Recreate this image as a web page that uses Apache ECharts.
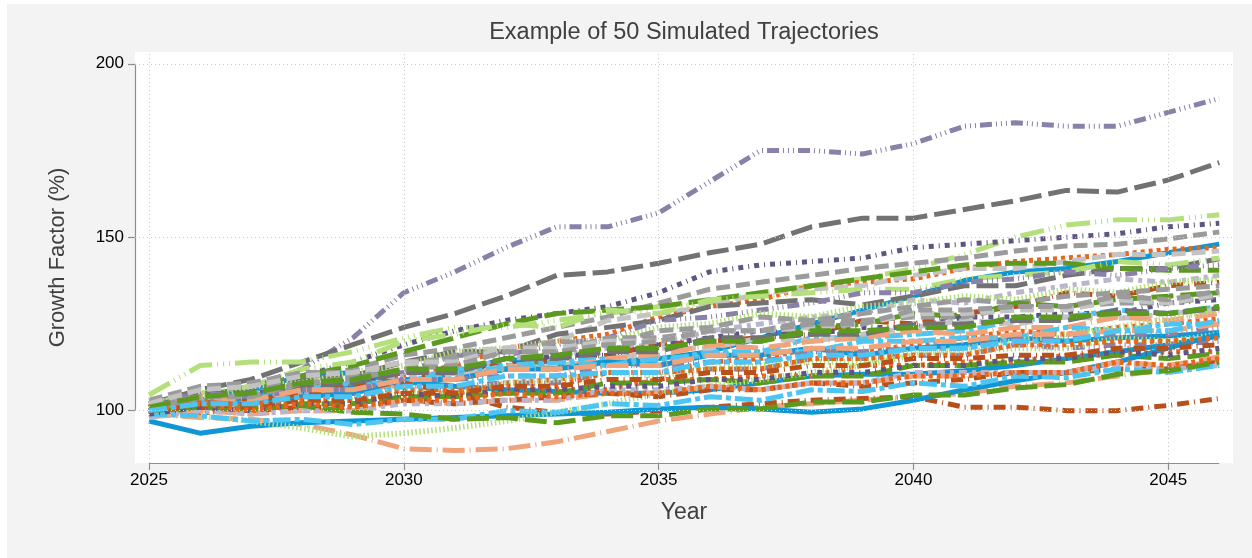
<!DOCTYPE html>
<html>
<head>
<meta charset="utf-8">
<script src="https://cdn.jsdelivr.net/npm/echarts@6/dist/echarts.min.js"></script>
<style>
html,body{margin:0;padding:0;background:#fff;}
#wrap{position:relative;width:1252px;height:558px;overflow:hidden;background:#fff;}
#bg{position:absolute;left:7px;top:4px;right:0;bottom:0;background:#f3f3f3;}
#chart{position:absolute;left:0;top:0;width:1252px;height:558px;}
</style>
</head>
<body>
<div id="wrap"><div id="bg"></div><div id="chart"></div></div>
<script>
// ---------- data ----------
const years = [2025,2026,2027,2028,2029,2030,2031,2032,2033,2034,2035,2036,2037,2038,2039,2040,2041,2042,2043,2044,2045,2046];
const xTicks = [2025,2030,2035,2040,2045];
const yTicks = [100,150,200];
const chartTitle = 'Example of 50 Simulated Trajectories';
const xTitle = 'Year';
const yTitle = 'Growth Factor (%)';

const s01 = [101,104,107,112,121,134,140,147,153,153,157,166,175,175,174,177,182,183,182,182,186,190];
const s02 = [102,106,109,114,119,124,128,133,139,140,142.5,145.5,148,153,155.5,155.5,158,160.5,163.5,163,166.5,171.5];
const s03 = [104.5,113,114,114,117,121,124,124,126,128,130,131,134,136,138,141,145,150,153.5,155,155,156.5];
const s04 = [100,103,106,110,114,119,123,126,128,130,134,140,142,143,144,147,148,149,150,151,153,154];
const s05 = [101,104,106,109,112,116,118,121,124,127,131,135,137,139,141,142.5,144,146,147.5,148,149.5,151.5];
const s06 = [100,103,106,110,111,108,111,115,113,114,115,117,121,125,129,133,137.5,140,141,143,145.5,148];
const s07 = [100,101,103,104,108,110,113,118,120,122,127,130,132,136,137,138,141,143,144,145,146.5,147];
const s08 = [99,102,104,108,110,112,117,118,120,126,128,130,134,135,136,139,141,141,143,145,145,146];
const s09 = [101,104,106,109,110,114,117,117,122,124,126,130,131,132,130.5,133,136,136,139,141,141,143.8];
const s10 = [101,104,107,110,113,117,121,125,128,129,130,132,134,136,138,140,142,142.5,142.5,141,140.5,140.5];
const s11 = [102,105,107,112,114,120,122,125,124,129,128,132,133,134,135,135,138,139,140,143,142,144];
const s12 = [100,102,105,105,110,111,116,116,119,121,126,127,129,131,134,134,137,138,140,139,141,142];
const s13 = [100,103,102,106,107,110,111,115,116,118,119,123,125,127,128,132,131,134,136,138,137,139];
const s14 = [100,101,104,104,107,108,112,113,115,116,119,120,121,122,126,125,128,130,134,133,136,137];
const s15 = [101,103,107,108,111,113,117,118,120,120,124,125,128,127,130,131,133,132,135,134,137,138];
const s16 = [102,104,108,107,110,111,116,117,120,119,123,124,127,126,128,130,132,131,133,134,135,136];
const s17 = [99,102,102,105,106,109,109,112,115,118,118,120,120,124,125,128,127,131,130,132,133,134];
const s18 = [101,102,105,106,109,108,111,113,116,116,119,121,123,122,124,124,127,127,128,128,131,132];
const s19 = [100,103,102,105,105,108,110,113,114,115,114,117,117,121,121,122,123,126,127,129,128,130];
const s20 = [99,100,104,104,107,107,111,112,113,114,118,118,121,120,122,124,126,125,127,126.5,128,129];
const s21 = [99,101,100,102,101,104,104,108,109,111,111,114,115,118,117,119,121,123,122,124,125,126.5];
const s22 = [100,102,102,105,105,108,109,113,112,115,116,119,118,120,121,123,122,124,124,127,126,128];
const s23 = [99,102,102,104,105,109,109,112,112,114,113,116,116,118,116,118,119,121,120,121,121.5,122.5];
const s24 = [100,102,104,106,107,108.5,107,106,105.5,105,105,106,108,110,110.5,110.5,111.5,113,115,117,119,121.5];
const s25 = [101,102,105,106,108,108,112,112,114,113,115,116,117,117,120,120,121,121,124,123,125,125];
const s26 = [100,103,102,104,104,107,107,108,108,111,111,112,112,115,115,116,116,119,118,119,119,120];
const s27 = [99,101,100,103,103,106,105,108,109,111,110,112,113,114,114,117,117,118,118,121,120,122];
const s28 = [100,99,102,102,103,103,105,105,106,106,109,109,110,110,113,113,114,114,116,116,117,117];
const s29 = [100,102,100,102,102,104,104,105,105,108,108,109,108,110,110,113,113,114,114,116,115,116.5];
const s30 = [99,98,97.5,96,93,89,88.5,89,91,94,97,99,101,102,103,104,105,107,108,110,112,114.5];
const s31 = [100,101,103,105,107,108,105,101,99.5,99,100,101,102,103,103.5,104,101,101,100,100,101.5,103.5];
const s32 = [97,93.5,95.5,96.5,97,97.5,98,98.5,99,99.5,100.5,101,100.5,99.5,100.5,103,106,108.6,111,114,118,122];
const s33 = [99,98.5,97,95,92.5,93.5,95,97,99.5,102,105,107,109,111,113,116,118,120,122,124,126.5,129];
const s34 = [98,100,99,100,100,103,102,103,103,105,105,107,106,108,108,110,110,111,111,114,113,115.5];
const s35 = [99,101,100,101,101,103,102,103,104,105,104,106,106,108,107,108,109,111,111,112,112,114];
const s36 = [103,107,108,111,111,114,115,117,117,121,121,123,123,126,126,127,127,130,130,131,131,133];
const s37 = [101,105,105,107,108,111,111,115,115,117,117,121,121,122,122,125,125,126,126,129,128,129.5];
const s38 = [98,100,99,100,100,102,102,103,103,106,106,107,106,108,108,111,111,111,111,113,112,113];
const s39 = [101,103,101,103,103,106,106,107,107,111,111,112,112,115,115,116,116,119,119,120,120,121];
const s40 = [99,98.5,97,97.5,96,97.5,97.5,100,99.5,102,101.5,104,103,106,105.5,108,107,110,109.5,112,111,113];
const s41 = [100,101,100.5,101.5,99.5,99,97.5,98,96.5,98.5,98.5,100.5,100.5,102.5,102.5,104.5,104.5,106.5,107.5,110.5,111.5,114];
const s42 = [102,105,104,106,106,109,109,110,110,113,113,114,114,117,117,118,118,121,121,122,122,124];
const s43 = [99,101,100,102,102,105,104,106,106,107,107,109,109,111,111,113,113,115,115,117,116,118];
const s44 = [100,102,101,103,103,105,105,107,107,109,109,111,111,113,113,115,115,116,116,118,118,119];
const s45 = [102,106,107,110,111,114,114,118,118,120,120,123,123,124,125,128,128,129,129,132,131,133.5];
const s46 = [101,104,103,106,106,109,109,112,112,113,113,116,116,118,118,120,120,122,122,123,123,125];
const s47 = [100,104,104,108,109,112,113,117,117,119,120,123,123,125,125,129,129,130,130,133,132,134.5];
const s48 = [100,102,100,102,101,103,103,105,104,105,105,107,106,108,108,110,110,111,111,114,113,115];
const s49 = [101,104,105,108,109,112,112,115,116,118,118,120,120,123,123,124,124,127,127,128,128,130];
const s50 = [100,102,102,104,104,107,107,110,110,111,111,114,114,116,116,118,118,120,120,123,123,126];

const seriesValues = [s01,s02,s03,s04,s05,s06,s07,s08,s09,s10,s11,s12,s13,s14,s15,s16,s17,s18,s19,s20,
  s21,s22,s23,s24,s25,s26,s27,s28,s29,s30,s31,s32,s33,s34,s35,s36,s37,s38,s39,s40,
  s41,s42,s43,s44,s45,s46,s47,s48,s49,s50];

// ---------- styles ----------
const COLORS = {
  blue:'#0e96d5', lightblue:'#4cc5f3', orange:'#e8651e', rust:'#b7501a', salmon:'#f0a47c',
  green:'#5b9a1f', lightgreen:'#b4e07c', gray:'#9b9b9b', darkgray:'#727272', purple:'#8a80a8',
  darkpurple:'#5e5582', lavender:'#bab5cd', lightgray:'#c3c3c3'
};
const DASH = {
  solid:'solid', dash:[14,6], ldash:[22,7], dot:[4,4], dd3:[12,4,1,4,1,4,1,4], ld3:[24,5,1,5,1,5,1,5],
  sqtick:[5,5,1,5], thin:[1.5,2.5], ldsd:[18,4,5,4], ldt:[22,5,1,5], dd1:[12,5,1,5], sq:[8,5,4,5]
};
const seriesStyle = [
  ['purple','dd3'],['darkgray','ldash'],['lightgreen','ld3'],['darkpurple','sqtick'],['gray','dash'],
  ['blue','solid'],['orange','dot'],['lightgray','dash'],['darkgray','ldash'],['green','ldash'],
  ['lightgreen','ld3'],['purple','dd3'],['lavender','sq'],['rust','dd1'],['lightgreen','thin'],
  ['gray','dash'],['green','ldash'],['darkpurple','sqtick'],['lightblue','ldsd'],['lightgray','dash'],
  ['orange','dot'],['salmon','ldt'],['blue','solid'],['blue','solid'],['lightblue','ldsd'],
  ['purple','dd3'],['lightgreen','thin'],['orange','dot'],['green','ldash'],['salmon','ldt'],
  ['rust','dd1'],['blue','solid'],['lightgreen','thin'],['salmon','ldt'],['rust','dd1'],
  ['gray','dash'],['darkgray','ldash'],['lavender','sq'],['orange','dot'],['lightblue','ldsd'],
  ['green','ldash'],['purple','dd3'],['darkpurple','sqtick'],['rust','dd1'],['lightgray','dash'],
  ['salmon','ldt'],['gray','dash'],['orange','dot'],['green','ldash'],['lightblue','ldsd']
];

const X_MIN = 2024.725, X_MAX = 2046.27, Y_MIN = 84.9, Y_MAX = 203.4;
const FONT = '"Liberation Sans", Arial, Helvetica, sans-serif';
const AXIS_GRAY = '#8e8e8e';
const GRID_GRAY = '#c9c9c9';

const series = seriesValues.map((vals, i) => {
  const st = seriesStyle[i];
  const dash = DASH[st[1]];
  return {
    type:'line', name:'Sim ' + (i+1), symbol:'none', silent:true, animation:false,
    data: years.map((y, k) => [y, vals[k]]),
    lineStyle:{ color:COLORS[st[0]], width: st[1]==='thin' ? 6 : 5, type:dash, cap:'butt', join:'round' },
    z: 3
  };
});

// gridlines + axis lines
series.unshift({
  type:'line', data:[], silent:true, animation:false, z:1,
  markLine:{
    silent:true, symbol:['none','none'], label:{show:false}, animation:false,
    lineStyle:{ color:GRID_GRAY, width:1, type:[1,3] },
    data: xTicks.map(v => ({xAxis:v})).concat(yTicks.map(v => ({yAxis:v})))
  }
});
series.unshift({
  type:'line', data:[], silent:true, animation:false, z:2,
  markLine:{
    silent:true, symbol:['none','none'], label:{show:false}, animation:false,
    lineStyle:{ color:AXIS_GRAY, width:1.2, type:'solid' },
    data: [
      [{coord:[X_MIN, yTicks[0]]},{coord:[X_MIN, yTicks[yTicks.length-1]]}],
      [{coord:[years[0], Y_MIN]},{coord:[years[years.length-1], Y_MIN]}]
    ]
  }
});

const chart = echarts.init(document.getElementById('chart'), null, {renderer:'canvas'});
chart.setOption({
  animation:false,
  backgroundColor:'transparent',
  textStyle:{ fontFamily:FONT },
  grid:{ left:135, right:19, top:52, bottom:95, show:true, backgroundColor:'#ffffff', borderWidth:0 },
  xAxis:{
    type:'value', min:X_MIN, max:X_MAX,
    axisLine:{show:false}, splitLine:{show:false},
    axisTick:{show:true, customValues:xTicks, length:7, lineStyle:{color:AXIS_GRAY, width:1.2}},
    axisLabel:{customValues:xTicks, color:'#000', fontSize:17, margin:9, fontFamily:FONT, formatter:v => String(v)},
    name:xTitle, nameLocation:'middle', nameGap:38,
    nameTextStyle:{fontSize:23, color:'#404040', fontFamily:FONT}
  },
  yAxis:{
    type:'value', min:Y_MIN, max:Y_MAX,
    axisLine:{show:false}, splitLine:{show:false},
    axisTick:{show:true, customValues:yTicks, length:7, lineStyle:{color:AXIS_GRAY, width:1.2}},
    axisLabel:{customValues:yTicks, color:'#000', fontSize:17, margin:11, fontFamily:FONT, formatter:v => String(v)},
    name:yTitle, nameLocation:'middle', nameGap:66, nameRotate:90,
    nameTextStyle:{fontSize:22, color:'#404040', fontFamily:FONT}
  },
  graphic:[{
    type:'text', x:684, y:33,
    style:{ text:chartTitle, font:'23.5px ' + FONT, fill:'#404040', align:'center', verticalAlign:'middle' }
  }],
  series: series
});
</script>
</body>
</html>
